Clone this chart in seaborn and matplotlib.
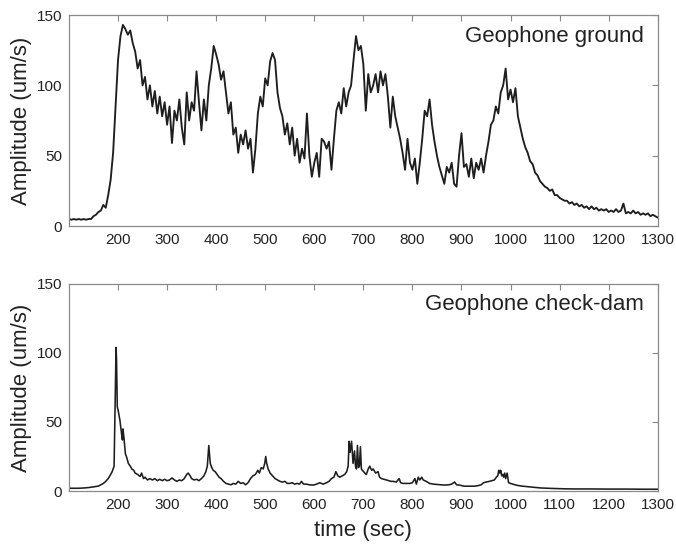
import numpy as np
import pandas as pd
import matplotlib
matplotlib.use("Agg")
import matplotlib.pyplot as plt
import seaborn as sns

# ---------------- data ----------------
ground_time = np.arange(100, 1301, 5)
ground_amp = [
    5, 4.5, 5, 4.5, 5, 4.5, 5, 4.5, 5, 5, 7, 8, 10, 11, 15, 13, 22, 33, 52, 85,
    118, 135, 143, 140, 136, 139, 130, 124, 112, 118, 100, 106, 90, 100, 85, 96, 80, 92, 78, 88,
    72, 85, 59, 82, 75, 90, 70, 58, 95, 75, 88, 82, 110, 88, 68, 90, 75, 100, 112, 128,
    122, 115, 104, 110, 95, 80, 88, 65, 70, 52, 65, 58, 68, 55, 62, 38, 55, 80, 92, 85,
    105, 100, 117, 123, 118, 95, 84, 78, 65, 73, 58, 70, 50, 62, 45, 55, 48, 80, 50, 35,
    45, 52, 35, 62, 60, 55, 60, 40, 62, 82, 88, 80, 98, 85, 95, 100, 118, 135, 125, 128,
    115, 82, 108, 95, 100, 108, 95, 110, 100, 108, 92, 70, 92, 78, 70, 62, 52, 40, 62, 45,
    40, 48, 30, 45, 62, 82, 78, 90, 72, 60, 50, 42, 36, 30, 42, 38, 45, 30, 28, 50,
    66, 42, 44, 35, 48, 34, 45, 40, 48, 38, 50, 60, 72, 75, 85, 80, 95, 100, 112, 90,
    97, 88, 98, 78, 70, 62, 56, 52, 46, 44, 38, 36, 32, 30, 28, 27, 25, 26, 22, 22,
    20, 19, 18, 18, 16, 17, 15, 16, 14, 15, 13, 14, 12, 14, 12, 13, 11, 12, 11, 12,
    10, 11, 10, 12, 10, 11, 16, 9, 10, 9, 11, 9, 10, 8, 9, 8, 9, 7, 8, 7,
    6,
]

dam_time = [
    100, 110, 120, 130, 140, 150, 160, 165, 170, 175, 180, 185, 188, 192, 194, 196, 197, 198.5,
    200.5, 204, 207, 209, 210, 212, 215, 218, 221, 225, 228, 232, 235, 240, 245, 248, 252, 255,
    260, 265, 270, 275, 280, 285, 290, 295, 300, 305, 310, 315, 320, 325, 330, 335, 340, 343,
    347, 350, 355, 360, 365, 370, 375, 379, 382, 385, 388, 391, 394, 398, 402, 406, 410, 415,
    420, 425, 430, 435, 440, 445, 450, 455, 460, 465, 470, 475, 480, 485, 488, 492, 496, 499,
    501, 503, 506, 510, 515, 520, 525, 530, 535, 540, 545, 550, 555, 560, 565, 570, 574, 578,
    584, 590, 598, 605, 611, 618, 625, 630, 635, 640, 644, 648, 652, 657, 662, 666, 669, 671,
    673, 676, 679, 682, 684, 686, 688, 690, 692, 694, 696, 698, 703, 706, 710, 713, 717, 720,
    725, 730, 733, 737, 742, 747, 752, 756, 761, 767, 773, 776, 781, 788, 795, 800, 805, 808,
    812, 815, 819, 822, 828, 835, 842, 849, 858, 865, 874, 880, 886, 890, 896, 905, 915, 927,
    935, 940, 945, 950, 957, 962, 967, 971, 974, 976, 978, 980, 982, 984, 986, 988, 990, 993,
    996, 1000, 1008, 1015, 1022, 1030, 1042, 1050, 1062, 1075, 1090, 1110, 1130, 1160, 1200,
    1240, 1270, 1300,
]
dam_amp = [
    2, 2, 2, 2.2, 2.5, 3, 3.6, 4.5, 5.5, 7, 9, 12, 14, 18, 60, 104, 95, 61,
    58, 51, 42, 37, 45, 39, 27, 24, 20, 18, 16, 15, 13, 12, 10.5, 13, 9, 10,
    8, 9, 8, 9, 7.5, 8.5, 7.5, 8.5, 7.5, 8, 9.5, 8, 7, 8, 7.5, 9, 12, 13,
    11, 9, 8, 8.5, 7.5, 9, 11, 14, 18, 33, 20, 17, 15, 14, 12, 10, 9, 7,
    5.5, 5, 4.5, 5.5, 5, 7, 5.5, 6, 4.5, 6, 9, 11, 12, 15, 13, 17, 16, 20,
    25, 20, 16, 13, 11, 9, 8, 7, 6.5, 7, 5.5, 5.5, 6, 5, 5.5, 5, 7, 5,
    5, 4.5, 4.3, 5, 6, 5, 6, 7, 9, 10, 14, 11, 10, 11, 12, 14, 18, 36,
    28, 36, 20, 29, 18, 16, 33, 17, 18, 32, 16, 15, 13, 12, 16, 18, 15, 16,
    13, 14, 10, 9, 8.5, 8, 7.5, 7, 7, 6.5, 9, 6, 5.5, 5.5, 5.5, 6, 9, 5,
    10, 8, 10, 8, 7, 5.5, 5, 4.8, 4.5, 4.3, 4.5, 5, 6.5, 4.5, 4.3, 3.5, 3.5, 3.5,
    4, 4.5, 6, 6.5, 7, 7.5, 8, 10, 11, 15, 13, 15, 11, 12, 10, 13, 9, 13,
    6, 5.5, 4.6, 4, 3.6, 3.3, 2.9, 2.6, 2.2, 2, 1.8, 1.6, 1.5, 1.5, 1.4,
    1.4, 1.3, 1.3,
]

panel_labels = ["Geophone ground", "Geophone check-dam"]
x_ticks = [200, 300, 400, 500, 600, 700, 800, 900, 1000, 1100, 1200, 1300]
y_ticks = [0, 50, 100, 150]

assert len(ground_time) == len(ground_amp)
assert len(dam_time) == len(dam_amp)

# ---------------- style ----------------
sns.set_theme(style="white")
plt.rcParams["font.family"] = ["Liberation Sans", "DejaVu Sans"]

fig = plt.figure(figsize=(6.76, 5.46), dpi=100)
ax1 = fig.add_axes([0.102, 0.586, 0.871, 0.3865])
ax2 = fig.add_axes([0.102, 0.1007, 0.871, 0.3793])

frames = [
    (ax1, pd.DataFrame({"time": ground_time, "amp": ground_amp}), panel_labels[0], 1.35),
    (ax2, pd.DataFrame({"time": dam_time, "amp": dam_amp}), panel_labels[1], 1.15),
]

for ax, df, label, lw in frames:
    sns.lineplot(data=df, x="time", y="amp", ax=ax, color="#1e1e1e",
                 linewidth=lw, estimator=None, sort=True)
    ax.set_xlim(100, 1300)
    ax.set_ylim(0, 150)
    ax.set_xticks(x_ticks)
    ax.set_yticks(y_ticks)
    ax.tick_params(direction="in", length=4, width=0.8, color="#888888",
                   top=True, right=True, labelsize=11, labelcolor="#222222", pad=5)
    for sp in ax.spines.values():
        sp.set_color("#8a8a8a")
        sp.set_linewidth(0.9)
    ax.set_ylabel("Amplitude (um/s)", fontsize=16, color="#222222", labelpad=3)
    ax.set_xlabel("")
    ax.text(0.976, 0.95, label, transform=ax.transAxes, ha="right", va="top",
            fontsize=16, color="#222222")

ax2.set_xlabel("time (sec)", fontsize=16, color="#222222", labelpad=6)

fig.savefig("out.png", dpi=100)
